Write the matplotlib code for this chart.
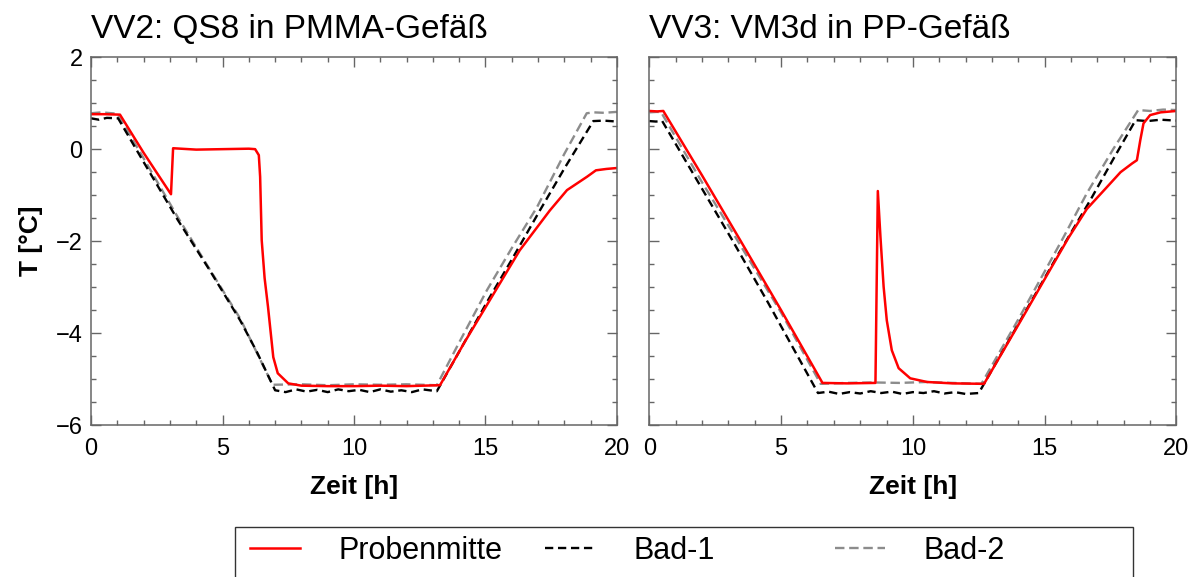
import matplotlib
matplotlib.use("Agg")
import matplotlib.pyplot as plt
from matplotlib.ticker import MultipleLocator
from matplotlib.patches import Rectangle

plt.rcParams['font.family'] = ['Liberation Sans', 'DejaVu Sans']

# VV2: QS8 in PMMA-Gefaess (left)
vv2_rot_t = [0, 0.5, 1.1, 2.0, 3.04, 3.12, 4.0, 5.0, 6.0, 6.24, 6.38, 6.43, 6.49, 6.6, 6.73, 6.93, 7.1, 7.5, 8.0,
             9.0, 10.0, 11.0, 12.0, 13.27, 14.2, 15.25, 16.3, 17.45, 18.1, 18.86, 19.2, 19.6, 20]
vv2_rot_T = [0.76, 0.76, 0.75, -0.08, -0.98, 0.02, -0.01, 0.0, 0.01, 0.0, -0.13, -0.6, -1.98, -2.8, -3.43, -4.52, -4.87,
             -5.09, -5.14, -5.15, -5.15, -5.14, -5.15, -5.13, -4.2, -3.2, -2.2, -1.33, -0.89, -0.6, -0.46, -0.43, -0.41]

vv2_bad1_t = [0, 0.3, 0.6, 1.03, 2.0, 3.3, 4.5, 5.67, 6.3, 7.0, 7.4, 7.8, 8.2, 8.6, 9.0, 9.4, 9.8, 10.2, 10.6, 11.0,
              11.4, 11.8, 12.2, 12.6, 13.15, 14.0, 15.1, 16.0, 17.07, 18.0, 19.1, 19.5, 20]
vv2_bad1_T = [0.67, 0.64, 0.68, 0.67, -0.28, -1.54, -2.62, -3.72, -4.4, -5.24, -5.28, -5.22, -5.27, -5.23, -5.28, -5.22,
              -5.26, -5.23, -5.28, -5.22, -5.27, -5.24, -5.28, -5.22, -5.26, -4.4, -3.28, -2.4, -1.33, -0.42, 0.61, 0.62, 0.6]

vv2_bad2_t = [0, 0.4, 1.0, 2.0, 3.3, 4.5, 5.67, 6.9, 8.0, 9.0, 10.0, 11.0, 12.0, 13.15, 14.0, 15.05, 16.0, 16.96,
              18.0, 18.85, 19.1, 19.5, 20]
vv2_bad2_T = [0.78, 0.8, 0.77, -0.2, -1.48, -2.6, -3.68, -5.12, -5.11, -5.13, -5.11, -5.12, -5.11, -5.13, -4.2,
              -3.07, -2.15, -1.26, -0.1, 0.78, 0.8, 0.79, 0.81]

# VV3: VM3d in PP-Gefaess (right)
vv3_rot_t = [0, 0.3, 0.53, 2.0, 3.45, 5.0, 6.57, 7.5, 8.58, 8.67, 8.77, 8.89, 9.01, 9.2, 9.46, 9.9, 10.54, 11.5,
             12.7, 14.0, 15.9, 16.6, 17.37, 17.88, 18.32, 18.5, 18.63, 18.75, 19.0, 19.4, 20]
vv3_rot_T = [0.83, 0.82, 0.83, -0.57, -1.98, -3.5, -5.08, -5.09, -5.08, -0.91, -1.91, -2.99, -3.72, -4.37, -4.76,
             -4.98, -5.06, -5.09, -5.1, -3.82, -1.93, -1.3, -0.82, -0.5, -0.31, -0.24, 0.2, 0.56, 0.74, 0.8, 0.83]

vv3_bad1_t = [0, 0.25, 0.49, 2.0, 3.15, 4.5, 6.4, 6.8, 7.2, 7.6, 8.0, 8.4, 8.8, 9.2, 9.6, 10.0, 10.4, 10.8, 11.2,
              11.6, 12.0, 12.5, 14.0, 15.5, 16.74, 17.6, 18.45, 18.9, 19.4, 20]
vv3_bad1_T = [0.61, 0.6, 0.61, -0.86, -1.98, -3.33, -5.3, -5.27, -5.32, -5.28, -5.31, -5.26, -5.3, -5.27, -5.32,
              -5.28, -5.3, -5.26, -5.31, -5.28, -5.32, -5.3, -3.8, -2.3, -1.1, -0.22, 0.63, 0.61, 0.64, 0.62]

vv3_bad2_t = [0, 0.3, 0.45, 2.0, 3.34, 5.0, 6.5, 7.5, 8.5, 9.5, 10.5, 11.5, 12.6, 14.0, 15.7, 16.6, 17.6,
              18.55, 19.0, 19.5, 20]
vv3_bad2_T = [0.8, 0.81, 0.8, -0.72, -1.98, -3.55, -5.1, -5.08, -5.07, -5.08, -5.06, -5.08, -5.1, -3.7, -1.93,
              -0.96, 0.0, 0.85, 0.83, 0.86, 0.85]

titles = ['VV2: QS8 in PMMA-Gefäß', 'VV3: VM3d in PP-Gefäß']
labels = ['Probenmitte', 'Bad-1', 'Bad-2']

fig = plt.figure(figsize=(11.98, 5.77), dpi=100)
ax1 = fig.add_axes([0.076, 0.263, 0.439, 0.638])
ax2 = fig.add_axes([0.542, 0.263, 0.440, 0.638])

data = [
    (ax1, vv2_rot_t, vv2_rot_T, vv2_bad1_t, vv2_bad1_T, vv2_bad2_t, vv2_bad2_T),
    (ax2, vv3_rot_t, vv3_rot_T, vv3_bad1_t, vv3_bad1_T, vv3_bad2_t, vv3_bad2_T),
]

for i, (ax, rt, rT, b1t, b1T, b2t, b2T) in enumerate(data):
    l2, = ax.plot(b2t, b2T, color='#8c8c8c', lw=1.7, dashes=(4, 2))
    l1, = ax.plot(b1t, b1T, color='black', lw=1.7, dashes=(3.5, 2))
    l0, = ax.plot(rt, rT, color='#ff0000', lw=1.8)
    handles = [l0, l1, l2]

    ax.set_xlim(0, 20)
    ax.set_ylim(-6, 2)
    ax.xaxis.set_major_locator(MultipleLocator(5))
    ax.xaxis.set_minor_locator(MultipleLocator(1))
    ax.yaxis.set_major_locator(MultipleLocator(2))
    ax.yaxis.set_minor_locator(MultipleLocator(0.5))
    ax.tick_params(which='both', direction='in', top=True, right=True, color='#666666', width=1.0)
    ax.tick_params(which='major', length=7, labelsize=17)
    ax.tick_params(which='minor', length=3.5)
    ax.tick_params(axis='x', pad=9)
    ax.tick_params(axis='y', pad=6)
    for s in ax.spines.values():
        s.set_color('#666666')
        s.set_linewidth(1.1)
    ax.set_title(titles[i], loc='left', fontsize=24, pad=14)
    ax.set_xlabel('Zeit [h]', fontsize=19, fontweight='bold', labelpad=11)

ax1.set_ylabel('T [°C]', fontsize=19, fontweight='bold', labelpad=9)
ax2.tick_params(axis='y', labelleft=False)

# legend: one entry per slot, frame drawn separately (runs off the bottom edge)
slot_x = [250 / 1198, 545 / 1198, 835 / 1198]
for h, lab, x in zip(handles, labels, slot_x):
    fig.legend([h], [lab], loc='center left', bbox_to_anchor=(x, 0.045), frameon=False,
               fontsize=22, handlelength=1.65, handletextpad=1.25, borderpad=0, borderaxespad=0)
fig.patches.append(Rectangle((235 / 1198, -0.1), 898 / 1198, 0.187, transform=fig.transFigure,
                             fill=False, edgecolor='#333333', linewidth=1.0))

fig.savefig('out.png', dpi=100)
